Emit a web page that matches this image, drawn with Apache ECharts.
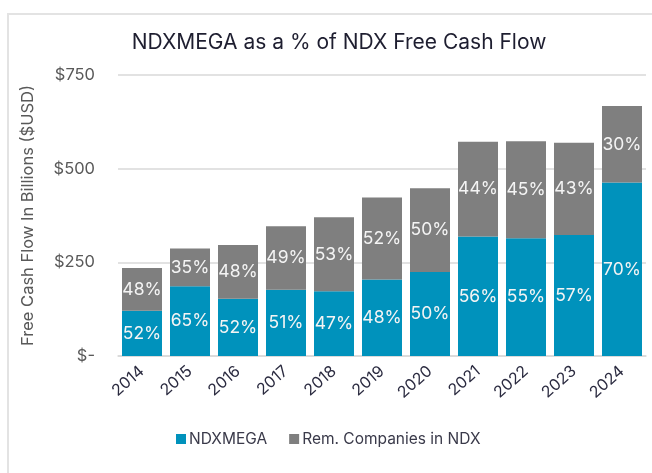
<!DOCTYPE html>
<html>
<head>
<meta charset="utf-8">
<script src="https://cdn.jsdelivr.net/npm/echarts@6/dist/echarts.min.js"></script>
<style>
  html, body { margin: 0; padding: 0; background: #fff; }
  #frame { position: absolute; left: 7px; top: 13px; width: 700px; height: 500px;
           border-left: 2px solid #e3e3e3; border-top: 2px solid #e3e3e3; }
  #main { position: absolute; left: 0; top: 0; width: 652px; height: 473px; }
</style>
</head>
<body>
<div id="frame"></div>
<div id="main"></div>
<script>
// values in $ billions
const years = ['2014', '2015', '2016', '2017', '2018', '2019', '2020', '2021', '2022', '2023', '2024'];
const megaFcf = [121, 186, 153, 177, 173, 204, 224, 319, 314, 323, 463];
const restFcf = [114, 101, 143, 169, 197, 219, 224, 253, 259, 246, 204];
const megaPct = ['52%', '65%', '52%', '51%', '47%', '48%', '50%', '56%', '55%', '57%', '70%'];
const restPct = ['48%', '35%', '48%', '49%', '53%', '52%', '50%', '44%', '45%', '43%', '30%'];

const chart = echarts.init(document.getElementById('main'));
const FONT = 'Inter';

const segLabel = (pcts) => ({
    show: true,
    position: 'inside',
    color: '#f4f4f4',
    fontFamily: FONT,
    fontSize: 17.5,
    formatter: (p) => pcts[p.dataIndex]
});

chart.setOption({
    animation: false,
    title: {
        text: 'NDXMEGA as a % of NDX Free Cash Flow',
        left: 334,
        textAlign: 'center',
        top: 27,
        textStyle: { fontFamily: FONT, fontSize: 21, fontWeight: 'normal', color: '#1e1e30' }
    },
    legend: {
        bottom: 21,
        left: 171,
        itemWidth: 10,
        itemHeight: 10,
        itemGap: 22,
        icon: 'rect',
        textStyle: { fontFamily: FONT, fontSize: 15.5, color: '#3a3a4a', padding: [0, 0, 0, -2] },
        data: ['NDXMEGA', 'Rem. Companies in NDX']
    },
    grid: { left: 118, right: 6, top: 75, bottom: 117 },
    xAxis: {
        type: 'category',
        data: years,
        axisLine: { show: true, lineStyle: { color: '#d9d9d9', width: 1.5 } },
        axisTick: { show: false },
        axisLabel: {
            rotate: 41,
            margin: 13,
            color: '#2b2b40',
            fontFamily: FONT,
            fontSize: 16
        }
    },
    yAxis: {
        type: 'value',
        min: 0,
        max: 750,
        interval: 250,
        name: 'Free Cash Flow In Billions ($USD)',
        nameLocation: 'middle',
        nameGap: 81,
        nameTextStyle: { fontFamily: FONT, fontSize: 16.5, color: '#595959' },
        axisLine: { show: false },
        axisTick: { show: false },
        axisLabel: {
            margin: 23,
            color: '#595959',
            fontFamily: FONT,
            fontSize: 16.5,
            formatter: (v) => (v === 0 ? '$-' : '$' + v)
        },
        splitLine: { lineStyle: { color: '#d9d9d9', width: 1.5 } }
    },
    series: [
        {
            name: 'NDXMEGA',
            type: 'bar',
            stack: 'fcf',
            barWidth: 40,
            data: megaFcf,
            itemStyle: { color: '#0092bc' },
            label: segLabel(megaPct)
        },
        {
            name: 'Rem. Companies in NDX',
            type: 'bar',
            stack: 'fcf',
            barWidth: 40,
            data: restFcf,
            itemStyle: { color: '#7f7f7f' },
            label: segLabel(restPct)
        }
    ]
});
</script>
</body>
</html>
